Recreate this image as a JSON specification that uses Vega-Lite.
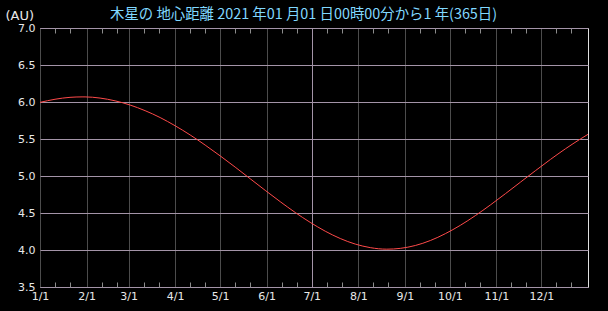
{
  "$schema": "https://vega.github.io/schema/vega-lite/v6.json",
  "width": 548,
  "height": 259,
  "autosize": "none",
  "padding": {"left": 40, "top": 28, "right": 20, "bottom": 25},
  "background": "#000000",
  "config": {
    "view": {"stroke": "#e0e0e0", "strokeWidth": 1, "fill": "#000000"},
    "axis": {"labelFont": "DejaVu Sans", "labelFontSize": 11, "labelColor": "#e8e8e8", "domain": false}
  },
  "title": {
    "text": "木星の 地心距離  2021 年01 月01 日00時00分から1 年(365日)",
    "font": "Noto Sans CJK JP",
    "fontSize": 14.4,
    "fontWeight": "normal",
    "color": "#80d8ff",
    "anchor": "start",
    "frame": "group",
    "dx": 70,
    "dy": 32,
    "baseline": "middle",
    "offset": 12
  },
  "data": {
    "values": [
      {"date": "2021-01-01", "au": 5.995},
      {"date": "2021-01-11", "au": 6.037},
      {"date": "2021-01-21", "au": 6.063},
      {"date": "2021-01-29", "au": 6.069},
      {"date": "2021-01-31", "au": 6.069},
      {"date": "2021-02-10", "au": 6.053},
      {"date": "2021-02-20", "au": 6.016},
      {"date": "2021-03-02", "au": 5.959},
      {"date": "2021-03-12", "au": 5.883},
      {"date": "2021-03-22", "au": 5.790},
      {"date": "2021-04-01", "au": 5.679},
      {"date": "2021-04-11", "au": 5.555},
      {"date": "2021-04-21", "au": 5.418},
      {"date": "2021-05-01", "au": 5.272},
      {"date": "2021-05-11", "au": 5.120},
      {"date": "2021-05-21", "au": 4.963},
      {"date": "2021-05-31", "au": 4.806},
      {"date": "2021-06-10", "au": 4.653},
      {"date": "2021-06-20", "au": 4.507},
      {"date": "2021-06-30", "au": 4.373},
      {"date": "2021-07-10", "au": 4.254},
      {"date": "2021-07-20", "au": 4.155},
      {"date": "2021-07-30", "au": 4.080},
      {"date": "2021-08-09", "au": 4.032},
      {"date": "2021-08-20", "au": 4.011},
      {"date": "2021-08-29", "au": 4.022},
      {"date": "2021-09-08", "au": 4.061},
      {"date": "2021-09-18", "au": 4.128},
      {"date": "2021-09-28", "au": 4.221},
      {"date": "2021-10-08", "au": 4.334},
      {"date": "2021-10-18", "au": 4.465},
      {"date": "2021-10-28", "au": 4.609},
      {"date": "2021-11-07", "au": 4.761},
      {"date": "2021-11-17", "au": 4.917},
      {"date": "2021-11-27", "au": 5.072},
      {"date": "2021-12-07", "au": 5.224},
      {"date": "2021-12-17", "au": 5.368},
      {"date": "2021-12-27", "au": 5.501},
      {"date": "2022-01-01", "au": 5.563}
    ]
  },
  "layer": [
    {
      "mark": {"type": "line", "color": "#ff4a4a", "strokeWidth": 1, "interpolate": "monotone"},
      "encoding": {
        "x": {
          "field": "date",
          "type": "temporal",
          "scale": {"type": "utc", "domain": [{"year": 2021, "month": 1, "date": 1, "utc": true}, {"year": 2022, "month": 1, "date": 1, "utc": true}]},
          "axis": {
            "orient": "bottom",
            "title": null,
            "values": [
              {"year": 2021, "month": 1, "date": 1, "utc": true}, {"year": 2021, "month": 1, "date": 11, "utc": true}, {"year": 2021, "month": 1, "date": 21, "utc": true},
              {"year": 2021, "month": 2, "date": 1, "utc": true}, {"year": 2021, "month": 2, "date": 11, "utc": true}, {"year": 2021, "month": 2, "date": 21, "utc": true},
              {"year": 2021, "month": 3, "date": 1, "utc": true}, {"year": 2021, "month": 3, "date": 11, "utc": true}, {"year": 2021, "month": 3, "date": 21, "utc": true},
              {"year": 2021, "month": 4, "date": 1, "utc": true}, {"year": 2021, "month": 4, "date": 11, "utc": true}, {"year": 2021, "month": 4, "date": 21, "utc": true},
              {"year": 2021, "month": 5, "date": 1, "utc": true}, {"year": 2021, "month": 5, "date": 11, "utc": true}, {"year": 2021, "month": 5, "date": 21, "utc": true},
              {"year": 2021, "month": 6, "date": 1, "utc": true}, {"year": 2021, "month": 6, "date": 11, "utc": true}, {"year": 2021, "month": 6, "date": 21, "utc": true},
              {"year": 2021, "month": 7, "date": 1, "utc": true}, {"year": 2021, "month": 7, "date": 11, "utc": true}, {"year": 2021, "month": 7, "date": 21, "utc": true},
              {"year": 2021, "month": 8, "date": 1, "utc": true}, {"year": 2021, "month": 8, "date": 11, "utc": true}, {"year": 2021, "month": 8, "date": 21, "utc": true},
              {"year": 2021, "month": 9, "date": 1, "utc": true}, {"year": 2021, "month": 9, "date": 11, "utc": true}, {"year": 2021, "month": 9, "date": 21, "utc": true},
              {"year": 2021, "month": 10, "date": 1, "utc": true}, {"year": 2021, "month": 10, "date": 11, "utc": true}, {"year": 2021, "month": 10, "date": 21, "utc": true},
              {"year": 2021, "month": 11, "date": 1, "utc": true}, {"year": 2021, "month": 11, "date": 11, "utc": true}, {"year": 2021, "month": 11, "date": 21, "utc": true},
              {"year": 2021, "month": 12, "date": 1, "utc": true}, {"year": 2021, "month": 12, "date": 11, "utc": true}, {"year": 2021, "month": 12, "date": 21, "utc": true}
            ],
            "labelExpr": "utcdate(datum.value) == 1 ? utcFormat(datum.value, '%-m/%-d') : ''",
            "labelOverlap": false,
            "labelFlush": false,
            "labelPadding": 8,
            "labelBaseline": "top",
            "grid": true,
            "gridColor": {"condition": {"test": "utcmonth(datum.value) == 6", "value": "#a494a8"}, "value": "#4c4c4c"},
            "gridOpacity": {"condition": {"test": "utcdate(datum.value) != 1", "value": 0}, "value": 1},
            "gridWidth": 1,
            "ticks": true,
            "tickSize": -5,
            "tickColor": "#8c8c8c",
            "tickOpacity": {"condition": {"test": "utcdate(datum.value) == 1", "value": 0}, "value": 1}
          }
        },
        "y": {
          "field": "au",
          "type": "quantitative",
          "scale": {"domain": [3.5, 7.0], "nice": false, "zero": false},
          "axis": {
            "values": [3.5, 4.0, 4.5, 5.0, 5.5, 6.0, 6.5, 7.0],
            "format": ".1f",
            "labelFlush": false,
            "labelOverlap": false,
            "labelPadding": 5,
            "ticks": false,
            "grid": true,
            "gridColor": "#a494a8",
            "gridWidth": 1,
            "title": "(AU)",
            "titleAngle": 0,
            "titleAlign": "left",
            "titleBaseline": "middle",
            "titleX": -35,
            "titleY": -13,
            "titleFont": "DejaVu Sans",
            "titleFontSize": 13,
            "titleFontWeight": "normal",
            "titleColor": "#e8e8e8"
          }
        }
      }
    },
    {
      "mark": {"type": "rule", "opacity": 0},
      "encoding": {
        "x": {
          "field": "date",
          "type": "temporal",
          "axis": {
            "orient": "top",
            "title": null,
            "values": [
              {"year": 2021, "month": 1, "date": 11, "utc": true}, {"year": 2021, "month": 1, "date": 21, "utc": true},
              {"year": 2021, "month": 2, "date": 11, "utc": true}, {"year": 2021, "month": 2, "date": 21, "utc": true},
              {"year": 2021, "month": 3, "date": 11, "utc": true}, {"year": 2021, "month": 3, "date": 21, "utc": true},
              {"year": 2021, "month": 4, "date": 11, "utc": true}, {"year": 2021, "month": 4, "date": 21, "utc": true},
              {"year": 2021, "month": 5, "date": 11, "utc": true}, {"year": 2021, "month": 5, "date": 21, "utc": true},
              {"year": 2021, "month": 6, "date": 11, "utc": true}, {"year": 2021, "month": 6, "date": 21, "utc": true},
              {"year": 2021, "month": 7, "date": 11, "utc": true}, {"year": 2021, "month": 7, "date": 21, "utc": true},
              {"year": 2021, "month": 8, "date": 11, "utc": true}, {"year": 2021, "month": 8, "date": 21, "utc": true},
              {"year": 2021, "month": 9, "date": 11, "utc": true}, {"year": 2021, "month": 9, "date": 21, "utc": true},
              {"year": 2021, "month": 10, "date": 11, "utc": true}, {"year": 2021, "month": 10, "date": 21, "utc": true},
              {"year": 2021, "month": 11, "date": 11, "utc": true}, {"year": 2021, "month": 11, "date": 21, "utc": true},
              {"year": 2021, "month": 12, "date": 11, "utc": true}, {"year": 2021, "month": 12, "date": 21, "utc": true}
            ],
            "labels": false,
            "grid": false,
            "ticks": true,
            "tickSize": -5,
            "tickColor": "#8c8c8c"
          }
        }
      }
    }
  ],
  "resolve": {"axis": {"x": "independent"}}
}
